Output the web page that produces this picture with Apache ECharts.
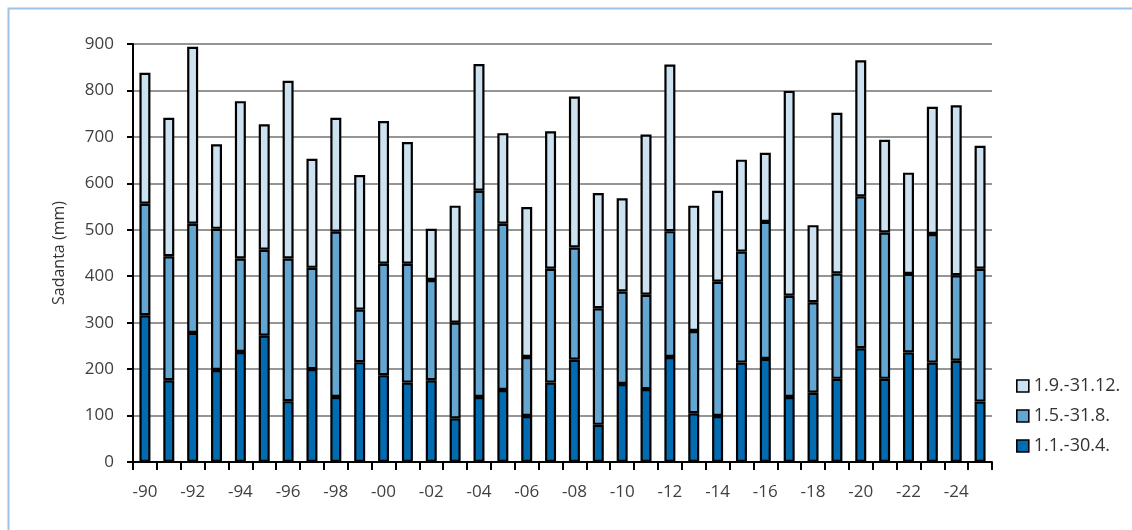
<!DOCTYPE html>
<html>
<head>
<meta charset="utf-8">
<script src="https://cdn.jsdelivr.net/npm/echarts@6/dist/echarts.min.js"></script>
<style>
html,body{margin:0;padding:0;background:#fff;}
#c{width:1132px;height:530px;}
</style>
</head>
<body>
<div id="c"></div>
<script>
const categories = ['-90','-91','-92','-93','-94','-95','-96','-97','-98','-99','-00','-01','-02','-03','-04','-05','-06','-07','-08','-09','-10','-11','-12','-13','-14','-15','-16','-17','-18','-19','-20','-21','-22','-23','-24','-25'];
const seriesNames = ['1.1.-30.4.','1.5.-31.8.','1.9.-31.12.'];
const janApr = [316,176,278,198,237,272,131,200,140,215,187,171,176,94,140,155,99,171,220,80,168,157,226,105,99,214,222,140,149,179,245,179,236,214,218,130];
const mayAug = [240,267,235,304,201,185,307,218,356,113,240,256,216,206,444,358,127,245,242,251,199,203,271,177,289,239,295,218,195,227,327,315,169,277,184,286];
const sepDec = [282,298,381,182,339,270,383,235,245,290,307,262,110,252,273,195,323,296,325,248,201,345,359,270,196,198,149,441,166,346,293,200,218,274,366,265];
const yTicks = [0,100,200,300,400,500,600,700,800,900];

const colors = ['#036bb0','#64a6d2','#cde2f0'];
const dataSets = [janApr, mayAug, sepDec];

const chart = echarts.init(document.getElementById('c'), null, {renderer:'canvas'});
const font = "'Open Sans', 'Liberation Sans', sans-serif";
chart.setOption({
  animation:false,
  backgroundColor:'#fff',
  graphic:[{
    type:'rect', silent:true, z:-1,
    shape:{x:8.5,y:8.5,width:1300,height:700},
    style:{fill:'none',stroke:'#9dc3e6',lineWidth:2}
  }],
  grid:{left:133,right:140,top:44,bottom:68,containLabel:false},
  legend:{
    orient:'vertical',
    left:1011, top:372,
    data:[seriesNames[2],seriesNames[1],seriesNames[0]],
    itemWidth:12,itemHeight:12,itemGap:12,
    icon:'rect',
    textStyle:{fontFamily:font,fontSize:18,color:'#333'},
    itemStyle:{borderColor:'#000',borderWidth:1.6}
  },
  xAxis:{
    type:'category',
    data:categories,
    axisLine:{lineStyle:{color:'#000',width:2}},
    axisTick:{show:true,interval:0,alignWithLabel:false,length:8,lineStyle:{color:'#000',width:2}},
    axisLabel:{interval:1,margin:22,fontFamily:font,fontSize:17,color:'#404040'},
    splitLine:{show:false}
  },
  yAxis:{
    type:'value',
    min:yTicks[0],max:yTicks[yTicks.length-1],interval:100,
    name:'Sadanta (mm)',
    nameLocation:'middle',
    nameGap:66,
    nameRotate:90,
    nameTextStyle:{fontFamily:font,fontSize:16,color:'#333'},
    axisLine:{show:true,lineStyle:{color:'#000',width:2}},
    axisTick:{show:true,length:6,inside:false,lineStyle:{color:'#000',width:2}},
    axisLabel:{margin:19,fontFamily:font,fontSize:17,color:'#404040'},
    splitLine:{show:true,lineStyle:{color:'#959595',width:2}}
  },
  series: seriesNames.map((n,i)=>({
    name:n,
    type:'bar',
    stack:'total',
    barWidth:11,
    data:dataSets[i],
    itemStyle:{color:colors[i],borderColor:'#000',borderWidth:2.2}
  }))
});
</script>
</body>
</html>
